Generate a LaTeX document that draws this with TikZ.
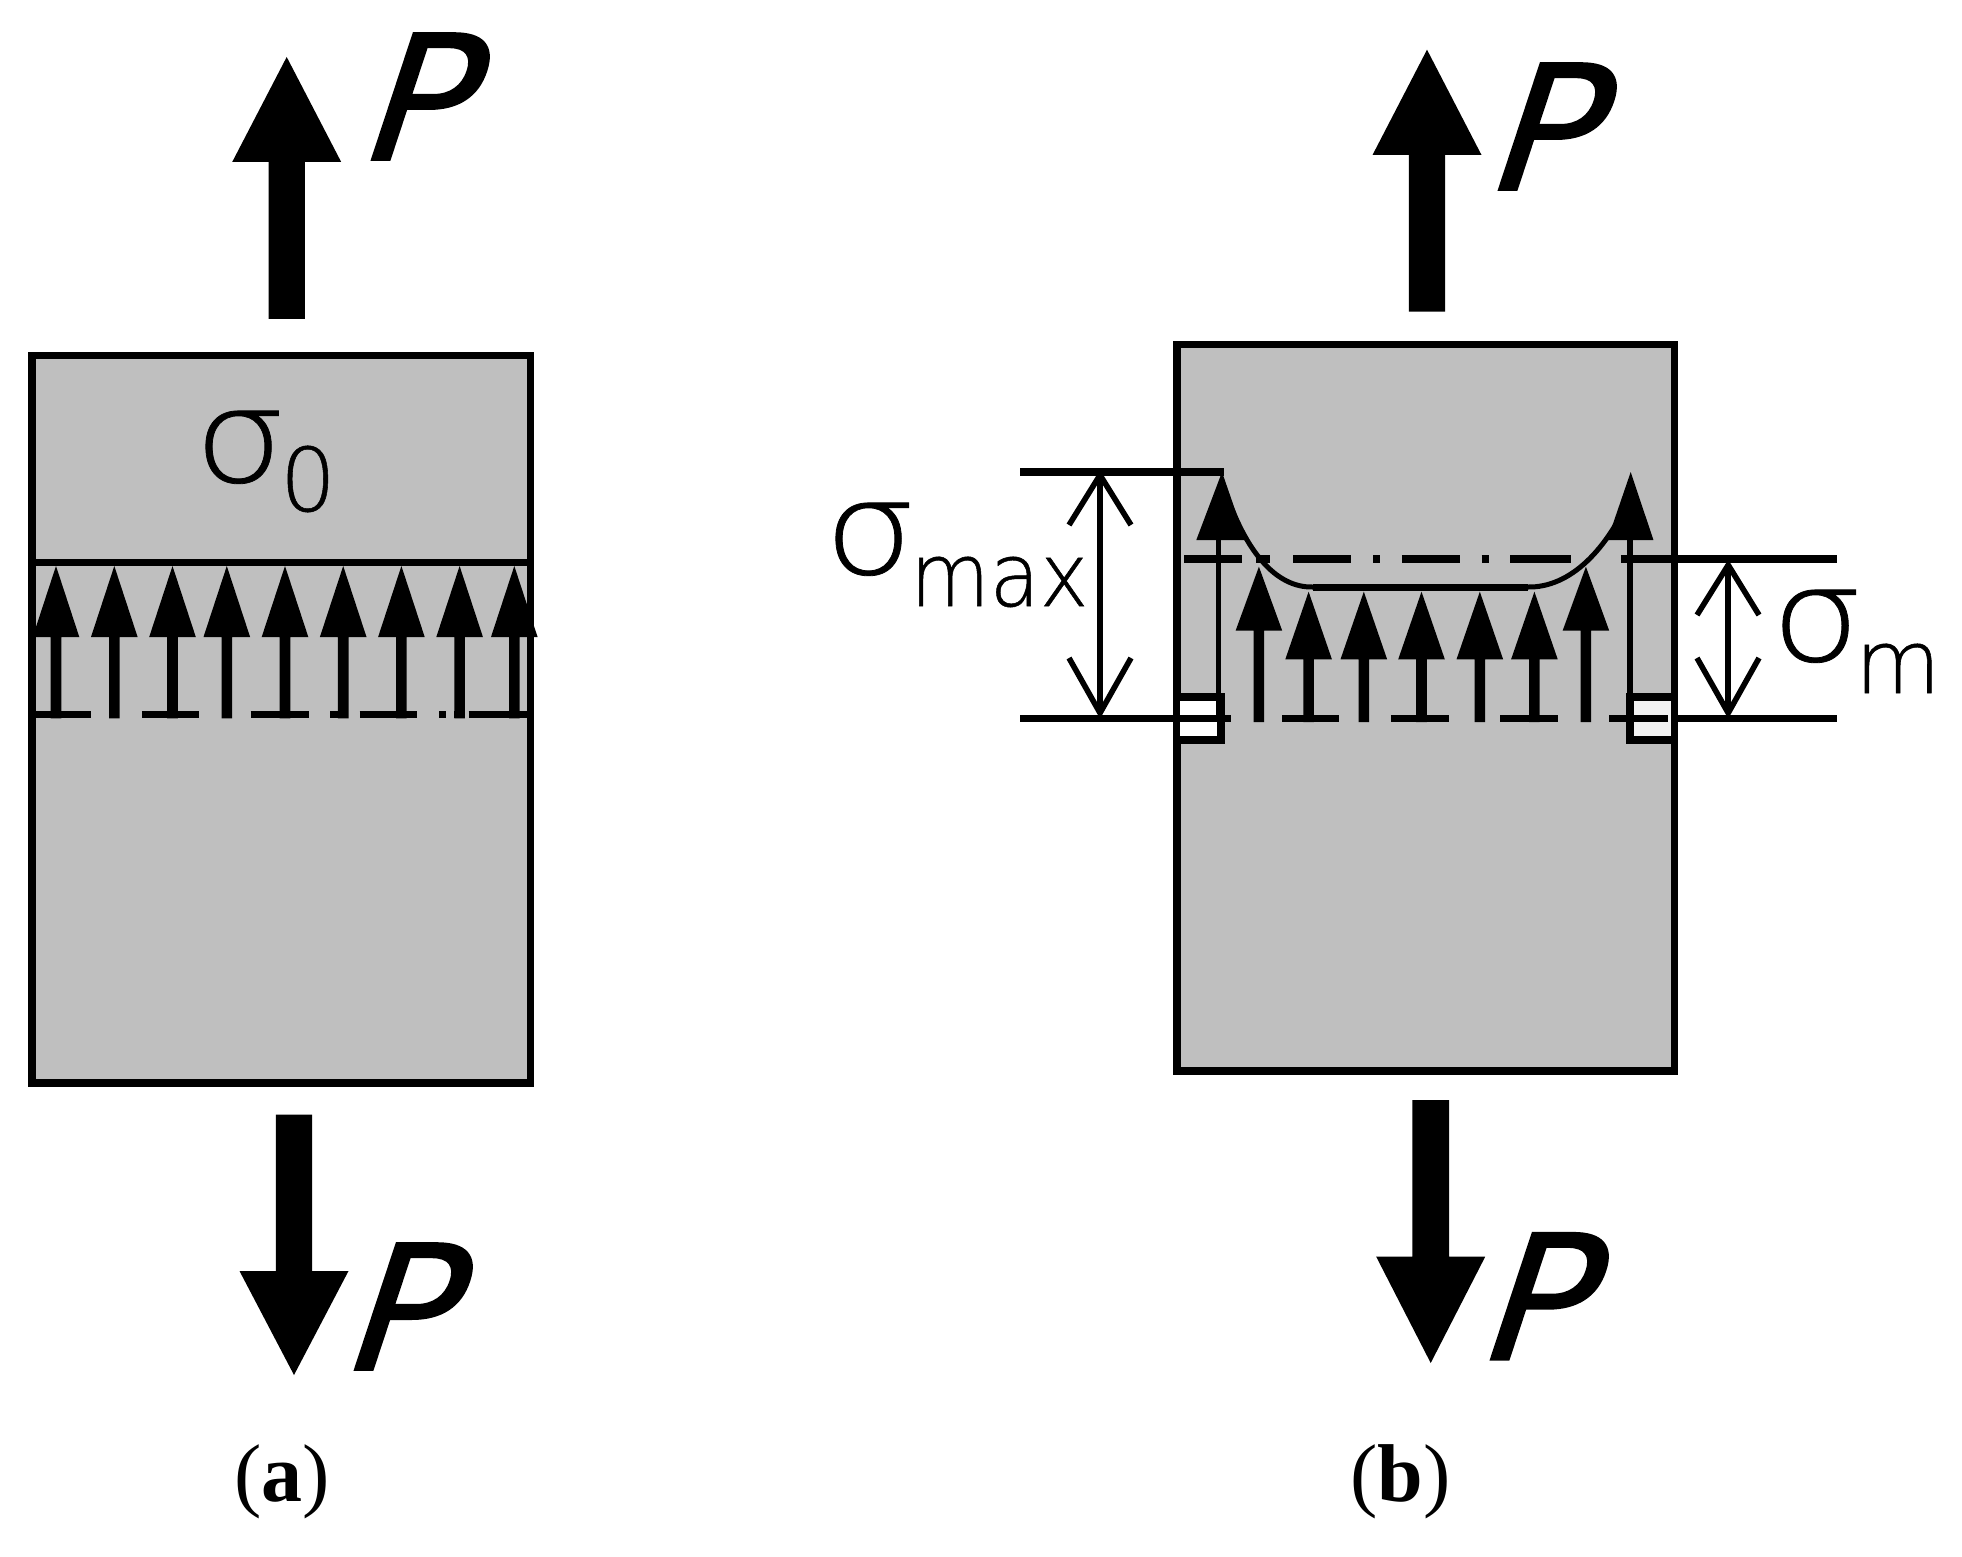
\documentclass[tikz,border=0pt]{standalone}
\usepackage{fontspec}
\setmainfont{Liberation Serif}
\newfontfamily\lightfont[FakeBold=0.6]{DejaVu Sans ExtraLight}
\newfontfamily\sigmafont[FakeBold=0.6,FakeStretch=1.12]{DejaVu Sans ExtraLight}
\newfontfamily\narrowfont[FakeBold=0.6,FakeStretch=0.93]{DejaVu Sans ExtraLight}
\newfontfamily\pfont[FakeBold=1.1,FakeSlant=0.33,FakeStretch=1.04]{DejaVu Sans}
\definecolor{plate}{HTML}{BFBFBF}
\tikzset{
  plate/.style={draw=black,fill=plate,line width=3.9pt,miter limit=10},
  rule/.style={draw=black,line width=3.7pt},
  thinrule/.style={draw=black,line width=2.8pt},
  pt/.style={inner sep=0pt,outer sep=0pt},
  ptext/.style={pt,anchor=base west,font=\pfont\fontsize{87}{87}\selectfont},
  capt/.style={pt,anchor=base,font=\fontsize{41}{41}\selectfont},
  sig/.style={pt,anchor=base west,font=\sigmafont\fontsize{65}{65}\selectfont},
  sub/.style={pt,anchor=base west,font=\lightfont\fontsize{44}{44}\selectfont},
  subn/.style={pt,anchor=base west,font=\narrowfont\fontsize{44}{44}\selectfont},
}
\newcommand{\bigup}[5]{% x tip, y tip, y base, y bottom, half shaft
  \fill (#1,#2) -- (#1+54.5,#3) -- (#1+#5,#3) -- (#1+#5,#4) -- (#1-#5,#4) -- (#1-#5,#3) -- (#1-54.5,#3) -- cycle;}
\newcommand{\smallup}[4]{% x, tip, base, bottom
  \fill (#1,#2) -- (#1+23.3,#3) -- (#1+5.3,#3) -- (#1+5.3,#4) -- (#1-5.3,#4) -- (#1-5.3,#3) -- (#1-23.3,#3) -- cycle;}
\newcommand{\segs}[2]{% y, list a/b
  \foreach \a/\b in {#2} \draw[rule] (\a,#1) -- (\b,#1);}
\begin{document}
\begin{tikzpicture}[x=0.5pt,y=-0.5pt]
\useasboundingbox (0,0) rectangle (1962,1556);
% --- panel a
\draw[plate] (32,355.5) rectangle (530.4,1083);
\draw[rule] (32,562.3) -- (530.4,562.3);
\foreach \x in {56,114.3,172.5,226.8,285,343.2,401.4,459.6,514.3} \smallup{\x}{566}{637}{718.3};
\segs{714.7}{35.7/91,141.8/199.3,250.7/308.6,330.4/348.2,359.6/417,439.3/446.4,454.3/465,468.6/527}
\draw[line width=3.9pt] (32,355.5) -- (32,1083) (530.4,355.5) -- (530.4,1083);
\bigup{286.7}{57}{162}{319}{18.2}
\bigup{294}{1375}{1271}{1114.7}{18.2}
\node[ptext] (pa1) at (354,160) {P};
\node[ptext] (pa2) at (337,1370) {P};
\node[sig] (sa) at (194,482) {σ};
\node[sub] (sa0) at (280,511) {0};
\node[capt] (ca) at (282,1501.7) {(\textbf{a})};
% --- panel b
\draw[plate] (1176.7,344.5) rectangle (1674.5,1071);
\draw[draw=black,fill=white,line width=3.7pt] (1176.7,697) rectangle (1221,740);
\draw[draw=black,fill=black!5,line width=3.7pt] (1630,697) rectangle (1674.5,740);
\draw[rule] (1020.2,472) -- (1224,472);
\segs{559}{1184/1242.3,1256.4/1270,1293.3/1351,1373/1380.4,1401.8/1460,1481.6/1489,1510.4/1570.6,1620.9/1837.4}
\segs{718.7}{1020.2/1231.3,1282.2/1339.3,1390.8/1448.5,1500/1558.3,1609.2/1667.5,1674.8/1837.4}
\draw[line width=2.8pt] (1218.4,540) -- (1218.4,722);
\draw[line width=2.8pt] (1630,540) -- (1630,722);
\fill (1222,472) -- (1245.4,540) -- (1196.3,540) -- cycle;
\fill (1630.7,472) -- (1653.4,540) -- (1607.4,540) -- cycle;
\smallup{1258.9}{566.7}{630.7}{722}
\smallup{1308.6}{591.7}{659.3}{722}
\smallup{1363.8}{591.7}{659.3}{722}
\smallup{1421.5}{591.7}{659.3}{722}
\smallup{1479.8}{591.7}{659.3}{722}
\smallup{1534.4}{591.7}{659.3}{722}
\smallup{1585.9}{566.7}{630.7}{722}
\draw[line width=2.5pt] (1225,490) .. controls (1245,550) and (1275,588) .. (1313,587);
\draw[line width=3.4pt] (1313,587.7) -- (1527.6,587.7);
\draw[line width=2.5pt] (1527.6,587) .. controls (1570,588) and (1608,550) .. (1633,490);
% dimension arrows
\draw[thinrule] (1100,476) -- (1100,713);
\draw[thinrule] (1069,525) -- (1100,475) -- (1131,525);
\draw[thinrule] (1069,658) -- (1100,713) -- (1131,658);
\draw[thinrule] (1728.2,565) -- (1728.2,713);
\draw[thinrule] (1697,615) -- (1728.2,565) -- (1759,615);
\draw[thinrule] (1697,658) -- (1728.2,713) -- (1759,658);
\bigup{1427}{49.7}{155}{311.7}{18.2}
\bigup{1430.7}{1363}{1256.7}{1100}{18.3}
\node[ptext] (pb1) at (1481,190) {P};
\node[ptext] (pb2) at (1473,1359.7) {P};
\node[sig] (sm) at (824,574) {σ};
\node[subn] (smax) at (910,606) {max};
\node[sig] (sm2) at (1771,661) {σ};
\node[sub] (smm) at (1855,693) {m};
\node[capt] (cb) at (1400.5,1501.7) {(\textbf{b})};
\end{tikzpicture}
\end{document}
